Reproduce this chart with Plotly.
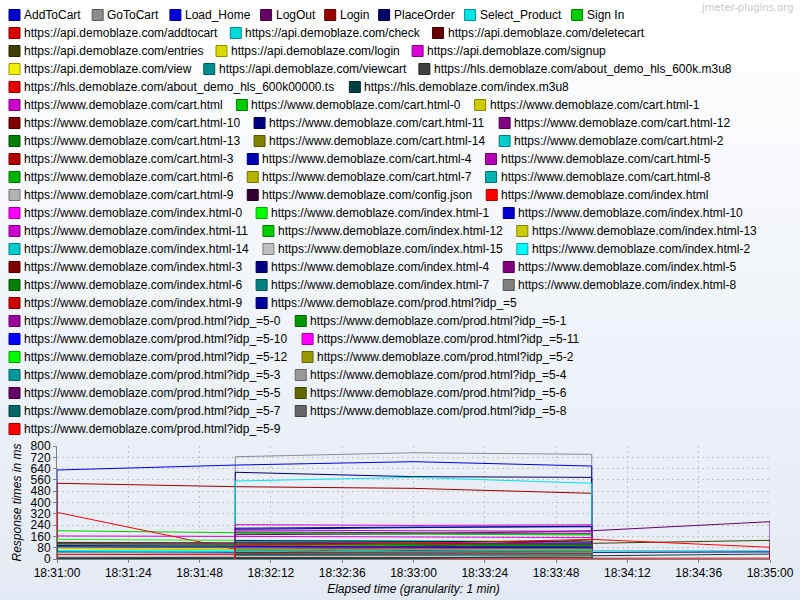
import base64
import plotly.graph_objects as go

# ---------------- data ----------------
DAY = "2024-01-01 "
TIMES = ["18:31:00", "18:32:00", "18:33:00", "18:34:00", "18:35:00"]

W = "https://www.demoblaze.com/"
SERIES_NAMES = [
    "AddToCart", "GoToCart", "Load_Home", "LogOut", "Login", "PlaceOrder", "Select_Product", "Sign In",
    "https://api.demoblaze.com/addtocart", "https://api.demoblaze.com/check", "https://api.demoblaze.com/deletecart",
    "https://api.demoblaze.com/entries", "https://api.demoblaze.com/login", "https://api.demoblaze.com/signup",
    "https://api.demoblaze.com/view", "https://api.demoblaze.com/viewcart",
    "https://hls.demoblaze.com/about_demo_hls_600k.m3u8", "https://hls.demoblaze.com/about_demo_hls_600k00000.ts",
    "https://hls.demoblaze.com/index.m3u8",
    W + "cart.html", W + "cart.html-0", W + "cart.html-1", W + "cart.html-10", W + "cart.html-11",
    W + "cart.html-12", W + "cart.html-13", W + "cart.html-14", W + "cart.html-2", W + "cart.html-3",
    W + "cart.html-4", W + "cart.html-5", W + "cart.html-6", W + "cart.html-7", W + "cart.html-8",
    W + "cart.html-9", W + "config.json", W + "index.html",
    W + "index.html-0", W + "index.html-1", W + "index.html-10", W + "index.html-11", W + "index.html-12",
    W + "index.html-13", W + "index.html-14", W + "index.html-15", W + "index.html-2", W + "index.html-3",
    W + "index.html-4", W + "index.html-5", W + "index.html-6", W + "index.html-7", W + "index.html-8",
    W + "index.html-9", W + "prod.html?idp_=5",
    W + "prod.html?idp_=5-0", W + "prod.html?idp_=5-1", W + "prod.html?idp_=5-10", W + "prod.html?idp_=5-11",
    W + "prod.html?idp_=5-12", W + "prod.html?idp_=5-2", W + "prod.html?idp_=5-3", W + "prod.html?idp_=5-4",
    W + "prod.html?idp_=5-5", W + "prod.html?idp_=5-6", W + "prod.html?idp_=5-7", W + "prod.html?idp_=5-8",
    W + "prod.html?idp_=5-9",
]

SERIES_COLORS = [
    "#0000CC", "#8C8C8C", "#0000D9", "#660066", "#990000", "#000066", "#00E6E6", "#00CC00",
    "#D90000", "#00D9D9", "#660000", "#404000", "#D9D900", "#D900D9", "#F2F200", "#008C8C",
    "#404040", "#E60000", "#004040",
    "#CC00CC", "#00CC00", "#CCCC00", "#800000", "#000080", "#800080", "#008000", "#808000",
    "#00CCCC", "#B30000", "#0000B3", "#B300B3", "#00B300", "#B3B300", "#00B3B3", "#B3B3B3",
    "#330033", "#FF0000",
    "#FF00FF", "#00FF00", "#0000CC", "#CC00CC", "#00CC00", "#CCCC00", "#00CCCC", "#C0C0C0",
    "#00FFFF", "#800000", "#000080", "#800080", "#008000", "#008080", "#808080", "#CC0000",
    "#000099", "#990099", "#009900", "#0000FF", "#FF00FF", "#00FF00", "#999900", "#009999",
    "#999999", "#660066", "#666600", "#006666", "#666666", "#FF0000",
]

N = None
# response time (ms) per series at each minute, in SERIES_NAMES order
V_1831 = [N, N, 630, N, 536, N, N, 200, N, N, N, N, 76, 163, N, N, 12, N, 4,
          N, N, N, N, N, N, N, N, N, N, N, N, N, N, N, N,
          108, 330, 105, 139, 52, 118, 100, 72, 56, 20, 60, 115, 95, 88, 110, 84, 45, 33,
          N, N, N, N, N, N, N, N, N, N, N, N, N, N]
V_1832 = [210, 724, 665, 172, 512, 614, 552, 186, 104, 68, 92, 96, 72, 160, 62, 42, 10, 5, 3,
          243, 182, 86, 100, 218, 192, 112, 94, 128, 90, 80, 205, 120, 74, 64, 55,
          100, 69, 101, 132, 48, 115, 97, 66, 53, 18, 58, 112, 90, 85, 106, 80, 40, 30,
          130, 118, 108, 88, 78, 70, 66, 58, 50, 44, 38, 32, 25, 95]
V_1833 = [222, 752, 689, 178, 500, 583, 578, 182, 112, 74, 96, 102, 70, 157, 58, 46, 13, 5, 5,
          238, 176, 80, 97, 226, 186, 106, 91, 124, 86, 83, 200, 116, 71, 67, 50,
          96, N, 98, 128, 52, 112, 95, 62, 55, 22, 61, 108, 60, 82, 100, 76, 42, 90,
          125, 112, 100, 84, 75, 68, 64, 55, 48, 42, 36, 30, 24, 110]
V_1834 = [232, 741, 658, 200, 465, 578, 536, 176, 98, 59, 88, 111, 67, 152, 63, 50, 11, 5, 23,
          242, 170, 78, 94, 228, 182, 101, 87, 118, 92, 85, 196, 110, 69, 62, 52,
          90, N, 95, 125, 50, 108, 93, 63, 53, 20, 60, 104, 47, 80, 97, 75, 44, 135,
          120, 106, 98, 80, 72, 66, 60, 54, 46, 40, 35, 28, 22, 139]
V_1835 = [N, N, N, 264, N, N, N, N, N, 57, N, 132, N, N, N, N, N, 6, 35,
          N, N, N, N, N, N, N, N, N, N, N, N, N, N, N, N,
          N, N, N, N, N, N, N, N, N, N, N, N, 50, N, N, N, N, N,
          N, N, N, N, N, N, N, N, N, N, N, N, N, 83]

Y_TICKS = [0, 80, 160, 240, 320, 400, 480, 560, 640, 720, 800]
LEGEND_ROWS = [8, 3, 3, 3, 2, 3, 3, 3, 3, 3, 3, 3, 3, 3, 3, 3, 2, 2, 2, 2, 2, 2, 2, 1]

# ---------------- layout geometry ----------------
PW, PH = 800, 600
L, R, T, B = 57, 30, 446, 41
AW, AH = PW - L - R, PH - T - B
FONT = "Liberation Sans, Arial, Helvetica, sans-serif"


def px_x(px):
    return (px - L) / AW


def px_y(py):
    return (PH - B - py) / AH


# Helvetica / Arial advance widths (per 1000 em)
CW = {' ': 278, ':': 278, '/': 278, '.': 278, '_': 556, '-': 333, '?': 556, '=': 584,
      'a': 556, 'b': 556, 'c': 500, 'd': 556, 'e': 556, 'f': 278, 'g': 556, 'h': 556, 'i': 222,
      'j': 222, 'k': 500, 'l': 222, 'm': 833, 'n': 556, 'o': 556, 'p': 556, 'q': 556, 'r': 333,
      's': 500, 't': 278, 'u': 556, 'v': 500, 'w': 722, 'x': 500, 'y': 500, 'z': 500,
      'A': 667, 'C': 722, 'G': 778, 'H': 722, 'I': 278, 'L': 556, 'O': 778, 'P': 667, 'S': 667, 'T': 611}


def text_w(s, size=12):
    return sum(CW.get(ch, 556) for ch in s) * size / 1000 * 1.02


def darker(hexc, f=0.65):
    r, g, b = (int(hexc[i:i + 2], 16) for i in (1, 3, 5))
    return "#%02X%02X%02X" % (int(r * f), int(g * f), int(b * f))


fig = go.Figure()

columns = [V_1831, V_1832, V_1833, V_1834, V_1835]
xt = [DAY + t for t in TIMES]
for i, name in enumerate(SERIES_NAMES):
    vals = [col[i] for col in columns]
    idx = [k for k, v in enumerate(vals) if v is not None]
    if not idx:
        continue
    a, b = idx[0], idx[-1]
    xs = [xt[a]] + xt[a:b + 1] + [xt[b]]
    ys = [0] + vals[a:b + 1] + [0]
    fig.add_trace(go.Scatter(x=xs, y=ys, mode="lines", name=name,
                             line=dict(color=SERIES_COLORS[i], width=1),
                             showlegend=False, hoverinfo="name+y"))

# ---------------- manual flow legend ----------------
shapes, annots = [], []
k = 0
for r, cnt in enumerate(LEGEND_ROWS):
    cy = 15 + 18 * r
    x = 9.0
    for _ in range(cnt):
        name, col = SERIES_NAMES[k], SERIES_COLORS[k]
        shapes.append(dict(type="rect", xref="paper", yref="paper",
                           x0=px_x(x), x1=px_x(x + 11), y0=px_y(cy - 5.5), y1=px_y(cy + 5.5),
                           fillcolor=col, line=dict(color=darker(col), width=1), layer="above"))
        annots.append(dict(xref="paper", yref="paper", x=px_x(x + 14), y=px_y(cy),
                           xanchor="left", yanchor="middle", text=name, showarrow=False,
                           borderpad=0, font=dict(family=FONT, size=12, color="#000000")))
        x += 14.5 + text_w(name) + 9.5
        k += 1

annots.append(dict(xref="paper", yref="paper", x=px_x(795), y=px_y(7), xanchor="right",
                   yanchor="middle", text="jmeter-plugins.org", showarrow=False, borderpad=0,
                   font=dict(family="DejaVu Sans, sans-serif", size=10, color="#C8C8C8")))

svg = ("<svg xmlns='http://www.w3.org/2000/svg' width='800' height='600' preserveAspectRatio='none'>"
       "<defs><linearGradient id='g' x1='0' y1='0' x2='0' y2='1'>"
       "<stop offset='0' stop-color='#FFFFFF'/><stop offset='1' stop-color='#E4EAF5'/>"
       "</linearGradient></defs><rect width='800' height='600' fill='url(#g)'/></svg>")
bg = "data:image/svg+xml;base64," + base64.b64encode(svg.encode()).decode()

fig.update_layout(
    width=PW, height=PH,
    margin=dict(l=L, r=R, t=T, b=B, pad=0, autoexpand=False),
    paper_bgcolor="#F2F5FA", plot_bgcolor="rgba(0,0,0,0)",
    showlegend=False,
    shapes=shapes, annotations=annots,
    images=[dict(source=bg, xref="paper", yref="paper", x=px_x(0), y=px_y(0),
                 sizex=PW / AW, sizey=PH / AH, xanchor="left", yanchor="top",
                 sizing="stretch", layer="below")],
    font=dict(family=FONT, size=12, color="#000000"),
    xaxis=dict(type="date", range=[DAY + "18:31:00", DAY + "18:35:00"], automargin=False,
               tick0=DAY + "18:31:00", dtick=24000, tickformat="%H:%M:%S",
               showgrid=True, gridcolor="#C4C4C4", griddash="2px,3px", gridwidth=1,
               showline=True, linecolor="#808080", linewidth=1,
               ticks="outside", ticklen=3, tickcolor="#808080",
               tickfont=dict(family=FONT, size=12, color="#000000"),
               title=dict(text="<i>Elapsed time (granularity: 1 min)</i>", standoff=5,
                          font=dict(family=FONT, size=12, color="#000000")),
               zeroline=False, fixedrange=True),
    yaxis=dict(range=[0, 800], tickvals=Y_TICKS, automargin=False,
               showgrid=True, gridcolor="#C4C4C4", griddash="2px,3px", gridwidth=1,
               showline=True, linecolor="#808080", linewidth=1,
               ticks="outside", ticklen=3, tickcolor="#808080",
               tickfont=dict(family=FONT, size=12, color="#000000"),
               title=dict(text="<i>Response times in ms</i>", standoff=6,
                          font=dict(family=FONT, size=12, color="#000000")),
               zeroline=False, fixedrange=True),
)

fig.write_html("out.html")
